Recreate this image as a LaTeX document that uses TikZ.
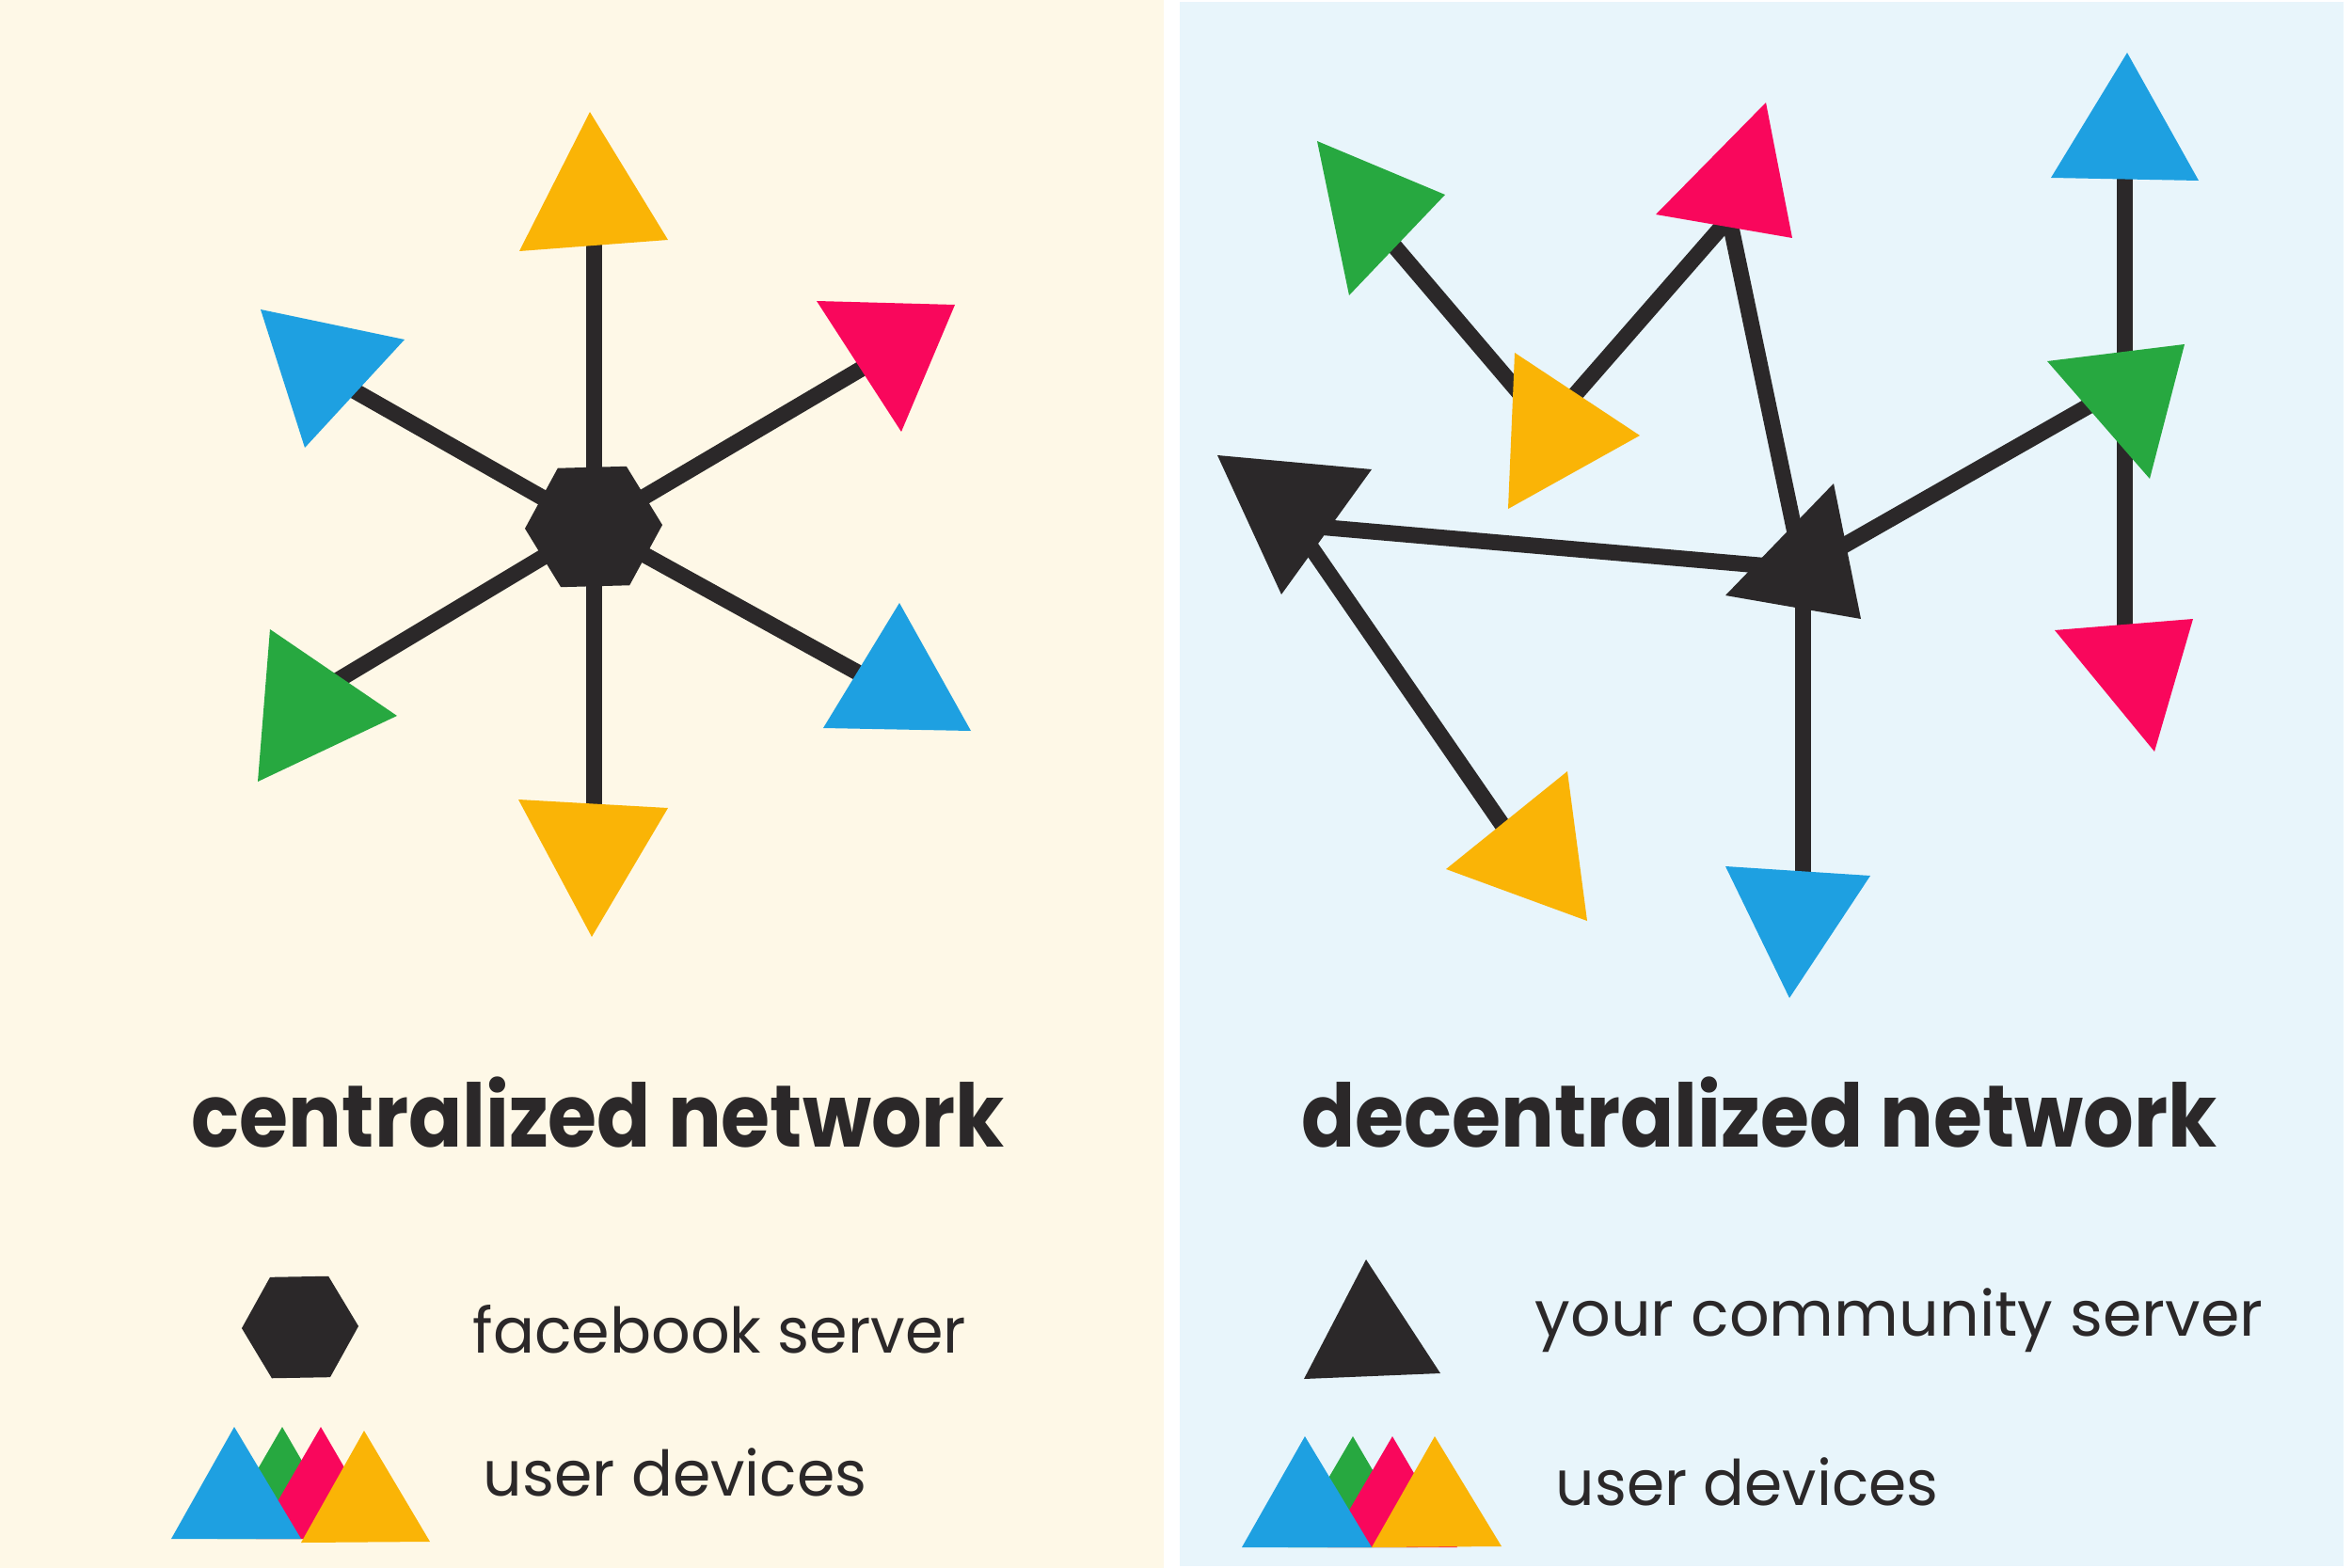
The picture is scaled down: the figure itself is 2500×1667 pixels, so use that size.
\documentclass[tikz,border=0pt]{standalone}
\usepackage{fontspec}
\setmainfont{Poppins}
\usetikzlibrary{shapes.geometric}
\definecolor{ink}{HTML}{2B2829}
\definecolor{sun}{HTML}{FAB406}
\definecolor{sky}{HTML}{1EA0E1}
\definecolor{rose}{HTML}{F9075C}
\definecolor{leaf}{HTML}{27A840}
\definecolor{cream}{HTML}{FEF8E7}
\definecolor{ice}{HTML}{E8F5FB}
% filled triangle from three corners
\newcommand\tri[4]{\fill[#1] #2 -- #3 -- #4 -- cycle;}
% horizontally narrowed text
\newcommand\narrow[2]{\scalebox{#1}[1]{#2}}
\begin{document}
\begin{tikzpicture}[x=0.01cm,y=-0.01cm,
  link/.style={draw=ink,line width=0.17cm},
  hexnode/.style={regular polygon,regular polygon sides=6,fill=ink,inner sep=0pt,outer sep=0pt,shape border rotate=1.5},
  title/.style={font=\fontsize{26.5}{30}\selectfont\bfseries,text=ink,anchor=base,inner sep=0pt},
  legend/.style={font=\fontsize{19}{22}\selectfont,text=ink,anchor=base west,inner sep=0pt},
]
\useasboundingbox (0,0) rectangle (2500,1667);
\fill[white] (0,0) rectangle (2500,1667);
\fill[cream] (0,0) rectangle (1237,1667);
\fill[ice] (1254,2) rectangle (2491,1665);

% ---------- centralized network ----------
\coordinate (fb) at (631,560);
\coordinate (cN)  at (631,220);
\coordinate (cS)  at (631,900);
\coordinate (cNW) at (353,402);
\coordinate (cNE) at (941,377);
\coordinate (cSW) at (331,740);
\coordinate (cSE) at (937,729);

\foreach \d in {cN,cS,cNW,cNE,cSW,cSE} \draw[link] (fb) -- (\d);

\tri{sun}{(627,119)}{(552,267)}{(710,255)}
\tri{sky}{(277,329)}{(430,361)}{(324,476)}
\tri{rose}{(868,320)}{(1015,324)}{(958,459)}
\tri{leaf}{(287,669)}{(422,761)}{(274,831)}
\tri{sky}{(956,641)}{(1032,777)}{(875,774)}
\tri{sun}{(551,850)}{(710,859)}{(629,996)}
\node[hexnode,minimum size=1.46cm] (fbhex) at (fb) {};

% ---------- decentralized network ----------
\coordinate (gTL) at (1450,224);
\coordinate (yM)  at (1645,453);
\coordinate (pT)  at (1838,232);
\coordinate (kC)  at (1916,605);
\coordinate (kL)  at (1377,558);
\coordinate (yB)  at (1621,912);
\coordinate (gR)  at (2258,410);
\coordinate (bTR) at (2258,150);
\coordinate (pR)  at (2258,700);
\coordinate (bB)  at (1916,960);

\draw[link] (gTL) -- (yM);
\draw[link] (yM) -- (pT);
\draw[link] (pT) -- (kC);
\draw[link] (kL) -- (kC);
\draw[link] (kL) -- (yB);
\draw[link] (kC) -- (gR);
\draw[link] (kC) -- (bB);
\draw[link] (bTR) -- (gR);
\draw[link] (gR) -- (pR);

\tri{leaf}{(1400,150)}{(1536,207)}{(1434,314)}
\tri{rose}{(1877,109)}{(1905,253)}{(1760,228)}
\tri{sky}{(2261,56)}{(2337,192)}{(2180,189)}
\tri{sun}{(1610,375)}{(1743,463)}{(1603,541)}
\tri{ink}{(1294,484)}{(1458,499)}{(1362,632)}
\tri{leaf}{(2176,384)}{(2322,366)}{(2285,509)}
\tri{ink}{(1949,514)}{(1978,658)}{(1834,633)}
\tri{rose}{(2184,670)}{(2331,658)}{(2290,799)}
\tri{sun}{(1666,820)}{(1687,979)}{(1537,924)}
\tri{sky}{(1834,921)}{(1988,931)}{(1902,1061)}

% ---------- titles ----------
\node[title] (tcen) at (636,1219) {\narrow{0.905}{centralized network}};
\node[title] (tdec) at (1870,1219) {\narrow{0.905}{decentralized network}};

% ---------- legend, left ----------
\node[hexnode,minimum size=1.24cm,shape border rotate=1] (lhex) at (319,1411) {};
\node[legend] (lfb) at (502,1438) {\narrow{0.976}{facebook server}};
\tri{leaf}{(300,1517)}{(231,1636)}{(369,1636)}
\tri{rose}{(341,1517)}{(272,1636)}{(410,1636)}
\tri{sky}{(249,1517)}{(182,1636)}{(320,1636)}
\tri{sun}{(387,1521)}{(320,1640)}{(457,1639)}
\node[legend] (lud) at (513,1590) {\narrow{0.973}{user devices}};

% ---------- legend, right ----------
\tri{ink}{(1452,1339)}{(1386,1466)}{(1531,1460)}
\node[legend] (rcs) at (1631,1420) {your community server};
\tri{leaf}{(1438,1527)}{(1369,1645)}{(1507,1645)}
\tri{rose}{(1480,1527)}{(1411,1645)}{(1549,1645)}
\tri{sky}{(1387,1527)}{(1320,1645)}{(1458,1645)}
\tri{sun}{(1525,1527)}{(1458,1645)}{(1596,1644)}
\node[legend] (rud) at (1653,1600) {\narrow{0.97}{user devices}};
\end{tikzpicture}
\end{document}
